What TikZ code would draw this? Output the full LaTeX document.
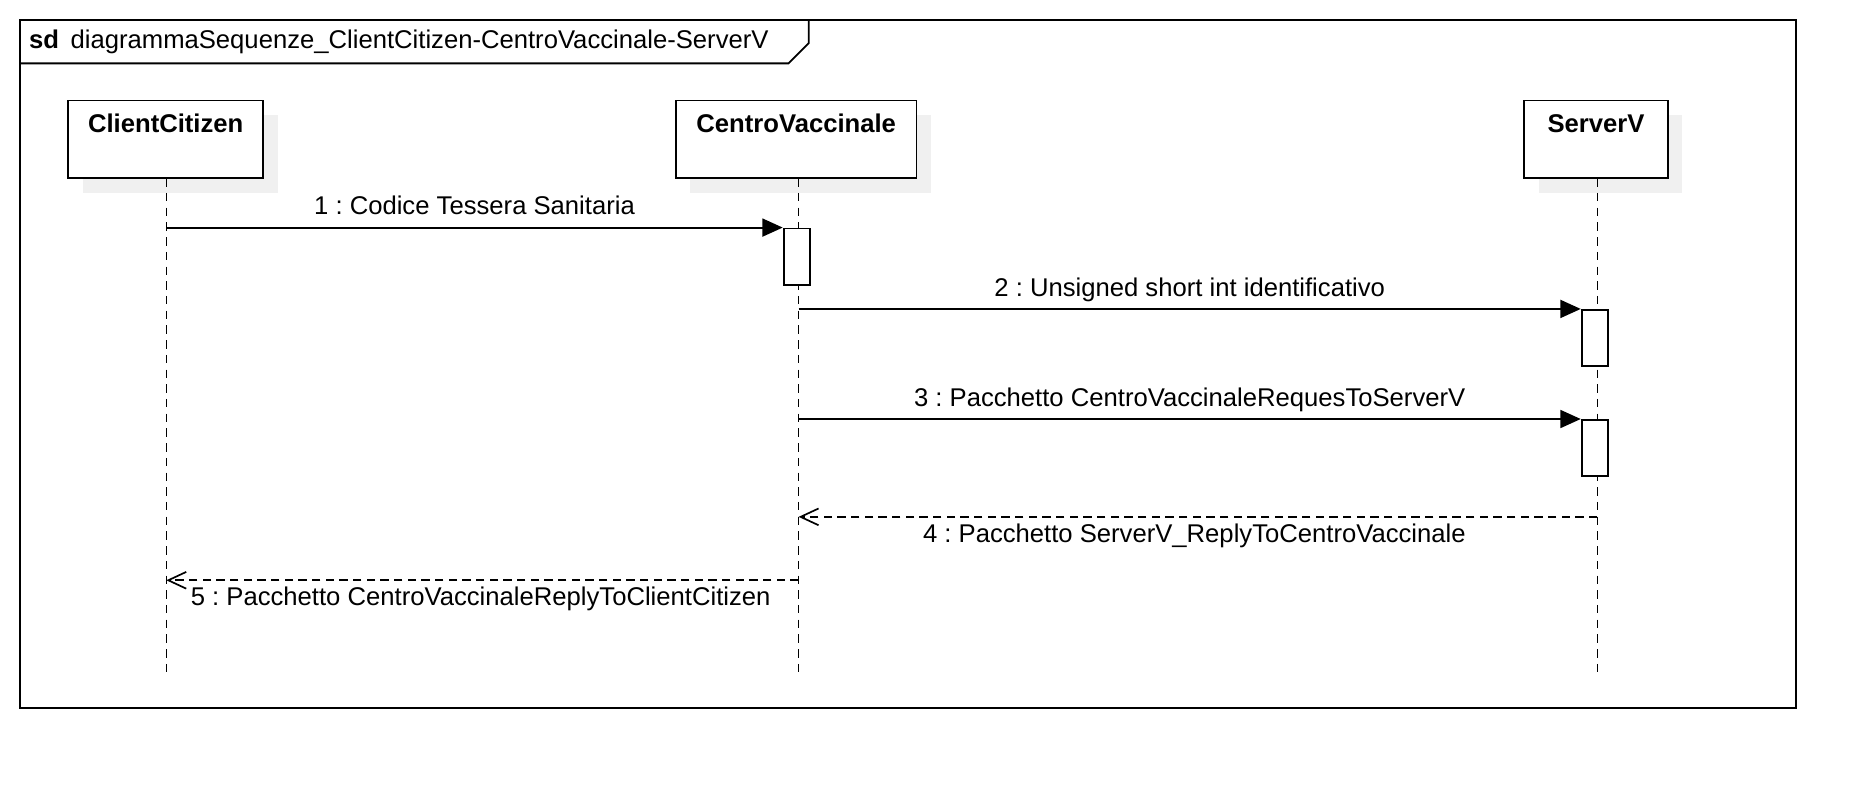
\documentclass[tikz,border=0pt]{standalone}
\usepackage{fontspec}
\setmainfont{Liberation Sans}
\usepackage{tikz}
\usetikzlibrary{arrows.meta, positioning, calc, shadows}
\definecolor{lineBlack}{RGB}{0, 0, 0}
\definecolor{shadowGray}{RGB}{240, 240, 240}
\frenchspacing

\begin{document}
\begin{tikzpicture}[
    x=0.02cm, y=-0.02cm,
    font=\fontsize{12.2}{14}\selectfont,
    frameline/.style={
        draw=lineBlack,
        line width=0.9pt
    },
    lifebox/.style={
        rectangle,
        draw=lineBlack,
        line width=0.9pt,
        fill=white,
        minimum height=1.3cm,
        inner sep=0pt,
        drop shadow={shadow xshift=0.24cm, shadow yshift=-0.24cm, fill=shadowGray, opacity=1}
    },
    boxtitle/.style={
        font=\fontsize{12.2}{14}\selectfont\bfseries,
        inner sep=0pt
    },
    activation/.style={
        rectangle,
        draw=lineBlack,
        line width=0.9pt,
        fill=white,
        minimum width=0.44cm,
        minimum height=0.94cm,
        inner sep=0pt
    },
    lifeline/.style={
        draw=lineBlack,
        line width=0.7pt,
        dash pattern=on 4pt off 3pt
    },
    callarrow/.style={
        -{Triangle[length=0.34cm, width=0.3cm]},
        line width=0.9pt,
        color=lineBlack
    },
    replyarrow/.style={
        -{Straight Barb[length=0.3cm, width=0.28cm]},
        line width=0.8pt,
        dash pattern=on 4pt off 2.5pt,
        color=lineBlack
    },
    msglabel/.style={
        text height=9pt,
        text depth=2.5pt,
        inner sep=0pt
    }
]
\useasboundingbox (0,0) rectangle (1568,659);

% Frame
\draw[frameline] (17,17) rectangle (1501,592);
\draw[frameline] (17,53) -- (659,53) -- (676,36) -- (676,17);
\node[anchor=west, inner sep=0pt] (sdTitle) at (24,35) {\textbf{sd}\hspace{5.5pt}diagrammaSequenze\_ClientCitizen-CentroVaccinale-ServerV};

% Lifeline heads
\node[lifebox, minimum width=3.26cm] (cc) at (138.5,116.5) {};
\node[lifebox, minimum width=4.02cm] (cv) at (665.5,116.5) {};
\node[lifebox, minimum width=2.4cm] (sv) at (1334,116.5) {};
\node[boxtitle] (ccTitle) at ($(cc.north)+(0,20)$) {ClientCitizen};
\node[boxtitle] (cvTitle) at ($(cv.north)+(0,20)$) {CentroVaccinale};
\node[boxtitle] (svTitle) at ($(sv.north)+(0,20)$) {ServerV};

% Lifelines
\coordinate (ccTop) at (139,149);
\coordinate (cvTop) at (667.5,149);
\coordinate (svTop) at (1335,149);
\coordinate (ccEnd) at (139,565);
\coordinate (cvEnd) at (667.5,565);
\coordinate (svEnd) at (1335,565);
\draw[lifeline] (ccTop) -- (ccEnd);
\draw[lifeline] (cvTop) -- (cvEnd);
\draw[lifeline] (svTop) -- (svEnd);

% Activations
\node[activation] (cvAct) at (666,214.5) {};
\node[activation] (svAct1) at (1333,282.5) {};
\node[activation] (svAct2) at (1333,374.5) {};

% Messages
\coordinate (m1) at (ccTop |- cvAct.north west);
\coordinate (m2) at (cvTop |- svAct1.north west);
\coordinate (m3) at (cvTop |- svAct2.north west);
\coordinate (m4s) at (1335,432);
\coordinate (m4e) at (667.5,432);
\coordinate (m5s) at (667.5,485);
\coordinate (m5e) at (139,485);

\draw[callarrow] (m1) -- node[msglabel, yshift=0.33cm] (l1) {1 : Codice Tessera Sanitaria} (cvAct.north west);
\draw[callarrow] (m2) -- node[msglabel, yshift=0.33cm] (l2) {2 : Unsigned short int identificativo} (svAct1.north west);
\draw[callarrow] (m3) -- node[msglabel, yshift=0.33cm] (l3) {3 : Pacchetto CentroVaccinaleRequesToServerV} (svAct2.north west);
\draw[replyarrow] (m4s) -- node[msglabel, yshift=-0.31cm, xshift=-0.06cm] (l4) {4 : Pacchetto ServerV\_ReplyToCentroVaccinale} (m4e);
\draw[replyarrow] (m5s) -- node[msglabel, yshift=-0.31cm, xshift=-0.03cm] (l5) {5 : Pacchetto CentroVaccinaleReplyToClientCitizen} (m5e);

\end{tikzpicture}
\end{document}
